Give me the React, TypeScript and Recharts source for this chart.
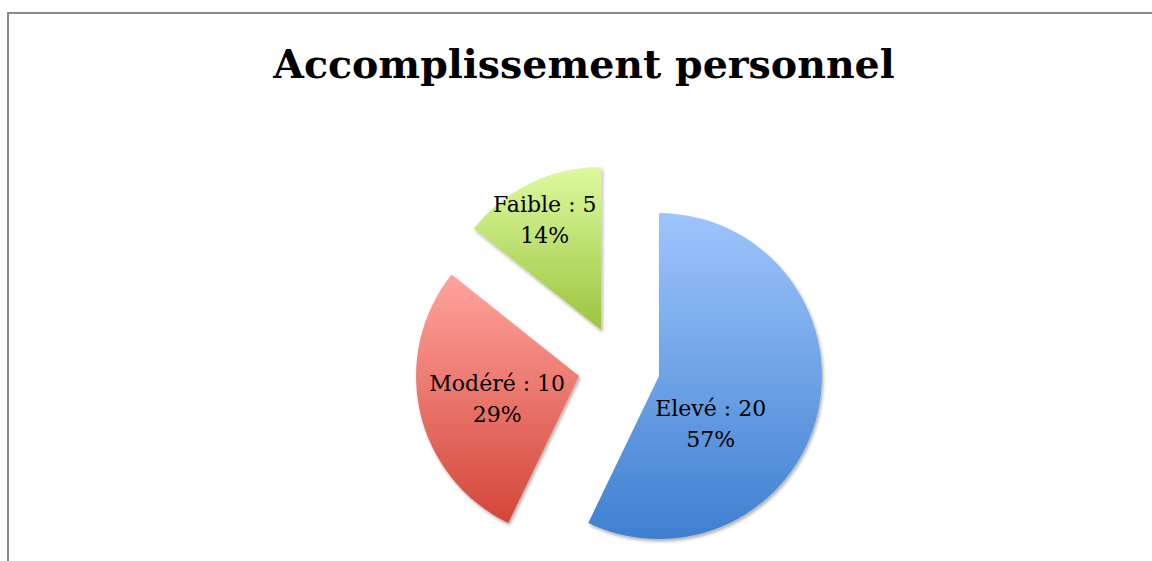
import { PieChart, Pie, Cell, Sector } from "recharts";

const categories = ["Elevé", "Modéré", "Faible"];
const counts = [20, 10, 5];
const percentLabels = ["57%", "29%", "14%"];

const GRADIENTS = [
  { id: "gElev", top: "#9ec5fc", bottom: "#3e80d0" },
  { id: "gMod", top: "#ffa49d", bottom: "#d4463a" },
  { id: "gFai", top: "#ddfa9e", bottom: "#9cc43e" },
];

// label placement (radius from pie centre, angle tweak) to mimic best-fit labels
const LABEL_POS = [
  { r: 108, da: -19 },
  { r: 126, da: 2 },
  { r: 165, da: 1 },
];

const EXPLODE = 41;
const RADIAN = Math.PI / 180;

const data = categories.map((name, i) => ({ name, value: counts[i], pct: percentLabels[i] }));

function ExplodedSector(props: any) {
  const dx = EXPLODE * Math.cos(-props.midAngle * RADIAN);
  const dy = EXPLODE * Math.sin(-props.midAngle * RADIAN);
  return <Sector {...props} cx={props.cx + dx} cy={props.cy + dy} stroke="none" filter="url(#shadow)" />;
}

function renderLabel(props: any) {
  const { cx, cy, midAngle, index, name, value, payload } = props;
  const pos = LABEL_POS[index];
  const a = -(midAngle + pos.da) * RADIAN;
  const x = cx + pos.r * Math.cos(a);
  const y = cy + pos.r * Math.sin(a);
  return (
    <text x={x} y={y} textAnchor="middle" fontFamily="'DejaVu Serif', serif" fontSize={22} fill="#000">
      <tspan x={x} dy={-8}>{`${name} : ${value}`}</tspan>
      <tspan x={x} dy={31}>{payload.pct}</tspan>
    </text>
  );
}

export default function App() {
  return (
    <div
      style={{
        position: "fixed",
        left: 7,
        top: 12,
        width: 1145,
        height: 549,
        borderTop: "2px solid #8c8c8c",
        borderLeft: "2px solid #8c8c8c",
        background: "#fff",
        overflow: "hidden",
      }}
    >
      <div
        style={{
          position: "absolute",
          left: 0,
          width: 1150,
          top: 27,
          textAlign: "center",
          fontFamily: "'DejaVu Serif', serif",
          fontWeight: "bold",
          fontSize: 39.5,
          color: "#000",
        }}
      >
        Accomplissement personnel
      </div>
      <PieChart width={1145} height={549}>
        <defs>
          {GRADIENTS.map((g) => (
            <linearGradient key={g.id} id={g.id} x1="0" y1="0" x2="0" y2="1">
              <stop offset="0%" stopColor={g.top} />
              <stop offset="100%" stopColor={g.bottom} />
            </linearGradient>
          ))}
          <filter id="shadow" x="-20%" y="-20%" width="140%" height="140%">
            <feDropShadow dx="1.5" dy="2.5" stdDeviation="1.8" floodColor="#000" floodOpacity="0.3" />
          </filter>
        </defs>
        <Pie
          data={data}
          dataKey="value"
          nameKey="name"
          cx={605}
          cy={348}
          outerRadius={163}
          startAngle={90}
          endAngle={-270}
          stroke="none"
          shape={ExplodedSector}
          label={renderLabel}
          labelLine={false}
          isAnimationActive={false}
        >
          {data.map((_, i) => (
            <Cell key={i} fill={`url(#${GRADIENTS[i].id})`} />
          ))}
        </Pie>
      </PieChart>
    </div>
  );
}
